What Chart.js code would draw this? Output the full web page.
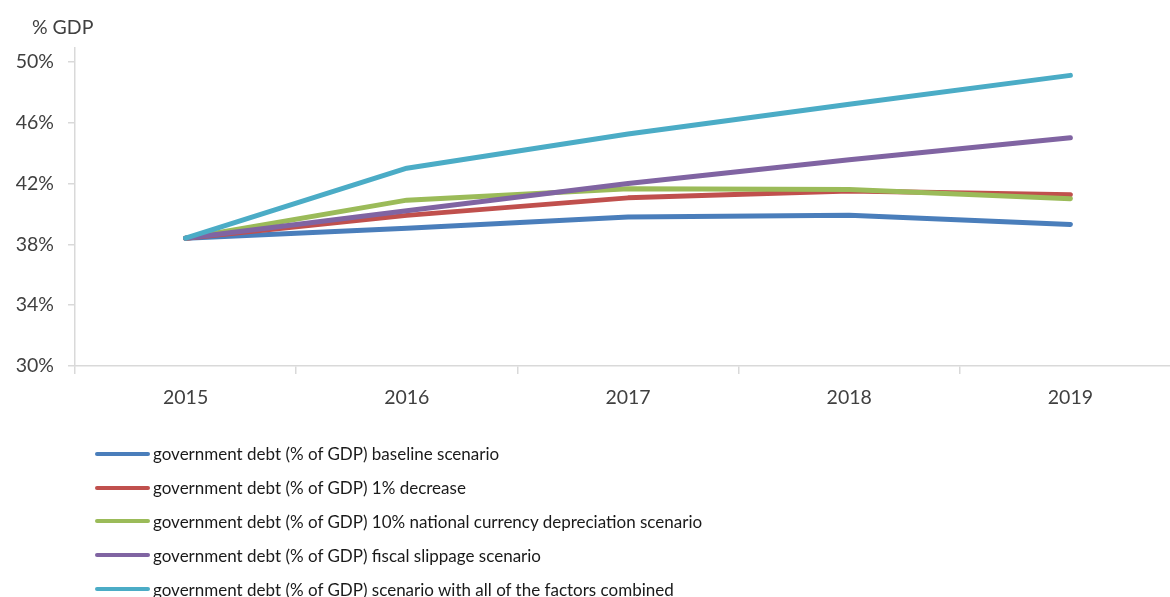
<!DOCTYPE html>
<html>
<head>
<meta charset="utf-8">
<script src="https://cdn.jsdelivr.net/npm/chart.js@4.4.1/dist/chart.umd.min.js"></script>
<style>
  html, body { margin: 0; padding: 0; background: #fff; overflow: hidden; }
  #wrap { position: relative; width: 1170px; height: 597px; overflow: hidden; }
  #c { position: absolute; left: 0; top: 0; }
  #legend { position: absolute; left: 95px; top: 437px; font-family: Lato, "Open Sans", sans-serif; font-size: 17px; color: #1a1a1a; }
  .row { height: 33.8px; display: flex; align-items: center; white-space: nowrap; }
  .sw { width: 55px; height: 4px; border-radius: 2px; margin-right: 3px; }
</style>
</head>
<body>
<div id="wrap">
  <canvas id="c" width="1181" height="597"></canvas>
  <div id="legend"></div>
</div>
<script>
const categories = ['2015', '2016', '2017', '2018', '2019'];
const seriesNames = [
  'government debt (% of GDP) baseline scenario',
  'government debt (% of GDP) 1% decrease',
  'government debt (% of GDP) 10% national currency depreciation scenario',
  'government debt (% of GDP) fiscal slippage scenario',
  'government debt (% of GDP) scenario with all of the factors combined'
];
const baseline = [38.4, 39.05, 39.8, 39.9, 39.3];
const decrease1 = [38.4, 39.9, 41.05, 41.5, 41.25];
const depreciation10 = [38.4, 40.9, 41.65, 41.6, 41.0];
const fiscalSlippage = [38.4, 40.2, 42.0, 43.55, 45.0];
const allCombined = [38.4, 43.0, 45.25, 47.2, 49.1];
const yTicks = [30, 34, 38, 42, 46, 50];
const yAxisTitle = '% GDP';
const colors = ['#4a7ebb', '#c0504d', '#9bbb59', '#8064a2', '#4bacc6'];

const seriesValues = [baseline, decrease1, depreciation10, fiscalSlippage, allCombined];
const datasets = seriesValues.map((vals, i) => ({
  label: seriesNames[i],
  data: vals,
  borderColor: colors[i],
  backgroundColor: colors[i],
  borderWidth: 5,
  borderCapStyle: 'round',
  borderJoinStyle: 'round',
  pointRadius: 0,
  tension: 0,
  fill: false,
  order: 5 - i
}));

const txt = '#404040';
const fam = 'Lato, "Open Sans", sans-serif';
const font = { family: fam, size: 19.5 };

const unitLabel = {
  id: 'unitLabel',
  afterDraw(chart) {
    const ctx = chart.ctx;
    ctx.save();
    ctx.fillStyle = txt;
    ctx.font = '19.5px ' + fam;
    ctx.textAlign = 'left';
    ctx.textBaseline = 'middle';
    ctx.fillText(yAxisTitle, 32, 28);
    ctx.restore();
  }
};

new Chart(document.getElementById('c'), {
  type: 'line',
  data: { labels: categories, datasets },
  plugins: [unitLabel],
  options: {
    responsive: false,
    animation: false,
    layout: { padding: { left: 0, right: 0, top: 48, bottom: 0 } },
    plugins: {
      legend: { display: false },
      tooltip: { enabled: false },
      title: { display: false }
    },
    scales: {
      x: {
        offset: true,
        grid: { offset: true, drawOnChartArea: false, drawTicks: true, tickLength: 8, color: '#d9d9d9', lineWidth: 1.5 },
        border: { display: true, color: '#d9d9d9', width: 1.5 },
        ticks: { color: txt, font, padding: 12, maxRotation: 0 },
        afterFit: (s) => { s.height = 231; }
      },
      y: {
        min: 30, max: 50.9,
        grid: { drawOnChartArea: false, drawTicks: true, tickLength: 7, color: '#d9d9d9', lineWidth: 1.5 },
        border: { display: true, color: '#d9d9d9', width: 1.5 },
        ticks: { color: txt, font, padding: 14, includeBounds: false, callback: (v) => v + '%' },
        afterBuildTicks: (s) => { s.ticks = yTicks.map(v => ({ value: v })); },
        afterFit: (s) => { s.width = 75; }
      }
    }
  }
});

const lg = document.getElementById('legend');
seriesNames.forEach((n, i) => {
  const r = document.createElement('div'); r.className = 'row';
  const sw = document.createElement('div'); sw.className = 'sw'; sw.style.background = colors[i];
  const t = document.createElement('span'); t.textContent = n;
  r.appendChild(sw); r.appendChild(t); lg.appendChild(r);
});
</script>
</body>
</html>
